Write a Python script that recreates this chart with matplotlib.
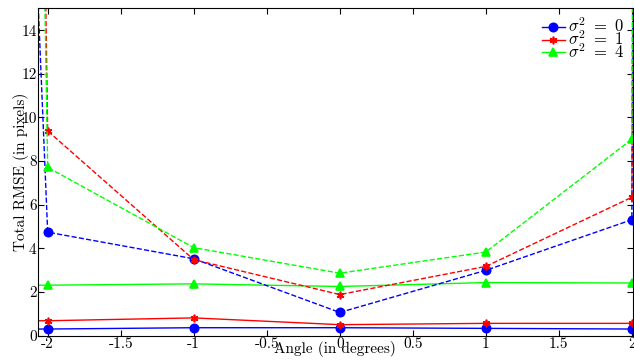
import matplotlib
matplotlib.use("Agg")
import matplotlib.pyplot as plt  # noqa: E402

plt.rcParams["font.family"] = "serif"
plt.rcParams["font.serif"] = ["cmr10", "DejaVu Serif"]
plt.rcParams["mathtext.fontset"] = "cm"
plt.rcParams["axes.unicode_minus"] = False

# angles in degrees; the +-3 points run far off the visible range
angles = [-3, -2, -1, 0, 1, 2, 3]
labels = [r"$\sigma^2\ =\ 0$", r"$\sigma^2\ =\ 1$", r"$\sigma^2\ =\ 4$"]
colors = ["#0000ff", "#ff0000", "#00ff00"]
markers = ["o", (6, 2, 0), "^"]
msizes = [6, 5.5, 6]

solid_s0 = [0.30, 0.30, 0.36, 0.36, 0.33, 0.30, 0.30]
solid_s1 = [0.68, 0.68, 0.81, 0.50, 0.56, 0.56, 0.56]
solid_s4 = [2.31, 2.31, 2.37, 2.25, 2.43, 2.41, 2.41]

dashed_s0 = [165, 4.74, 3.52, 1.06, 2.99, 5.31, 1500]
dashed_s1 = [450, 9.38, 3.48, 1.88, 3.17, 6.34, 1500]
dashed_s4 = [400, 7.71, 4.03, 2.86, 3.83, 9.00, 1500]

solid = [solid_s0, solid_s1, solid_s4]
dashed = [dashed_s0, dashed_s1, dashed_s4]

fig = plt.figure(figsize=(6.34, 3.62), dpi=100)
ax = fig.add_subplot(111)
fig.subplots_adjust(left=0.060, right=0.998, bottom=0.073, top=0.977)

for ys, c, m, ms, lab in zip(solid, colors, markers, msizes, labels):
    ax.plot(angles, ys, color=c, marker=m, markersize=ms, mew=1.2, lw=1,
            label=lab)
for ys, c, m, ms in zip(dashed, colors, markers, msizes):
    ax.plot(angles, ys, color=c, marker=m, markersize=ms, mew=1.2, lw=1,
            ls="--")

ax.set_xlim(-2.066, 2.006)
ax.set_ylim(0, 15)
ax.set_xticks([-2, -1.5, -1, -0.5, 0, 0.5, 1, 1.5, 2])
ax.set_xticklabels(["-2", "-1.5", "-1", "-0.5", "0", "0.5", "1", "1.5", "2"])
ax.set_yticks(range(0, 15, 2))
ax.tick_params(direction="in", top=True, right=True, length=4, width=0.8,
               pad=1, labelsize=11)

ax.set_xlabel("Angle (in degrees)", fontsize=11, labelpad=-7)
ax.set_ylabel("Total RMSE (in pixels)", fontsize=11, labelpad=-6)

ax.legend(loc="upper right", frameon=False, fontsize=12, handlelength=1.4,
          handletextpad=0.2, labelspacing=-0.35, borderaxespad=0.2,
          borderpad=0.3)

fig.savefig("out.png", dpi=100)
